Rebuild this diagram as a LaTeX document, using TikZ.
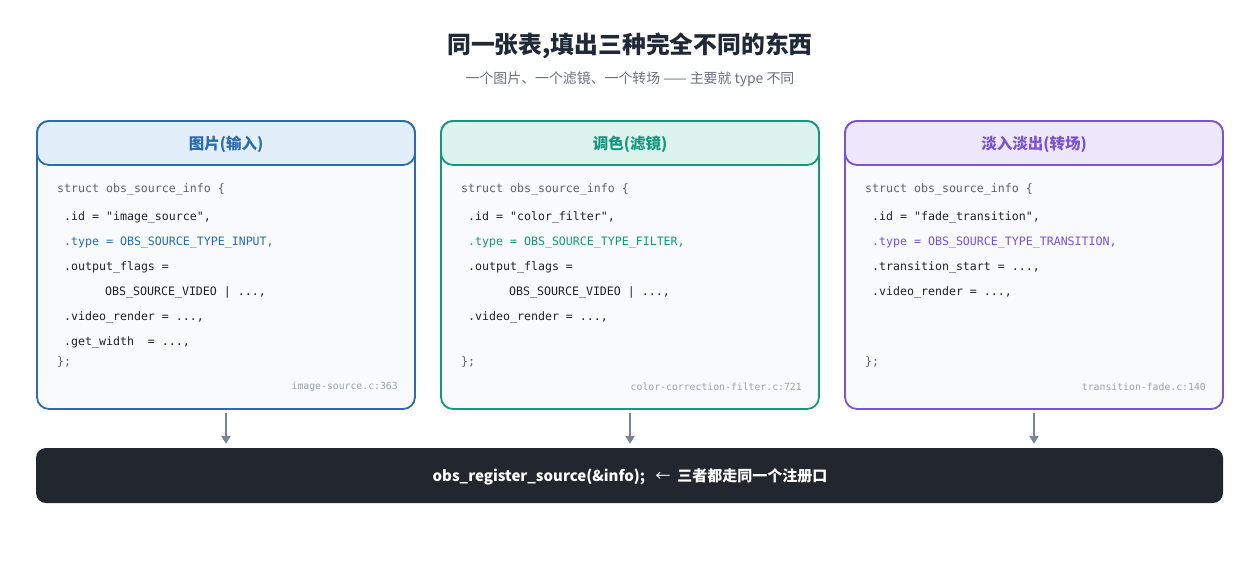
\documentclass[tikz,border=0pt]{standalone}
\usepackage{fontspec}
\setmainfont{Noto Sans CJK SC}
\setmonofont{DejaVu Sans Mono}
\usetikzlibrary{arrows.meta}
\definecolor{titlec}{HTML}{1F2937}
\definecolor{subc}{HTML}{6B7280}
\definecolor{bluec}{HTML}{2B6CB0}
\definecolor{bluef}{HTML}{E3EEFB}
\definecolor{tealc}{HTML}{17977F}
\definecolor{tealf}{HTML}{DDF3EE}
\definecolor{purc}{HTML}{7B52D3}
\definecolor{purf}{HTML}{EDE7FB}
\definecolor{bodyf}{HTML}{F8FAFC}
\definecolor{codec}{HTML}{1F2328}
\definecolor{structc}{HTML}{5B6370}
\definecolor{notec}{HTML}{9CA3AF}
\definecolor{barf}{HTML}{22262E}
\definecolor{arrc}{HTML}{7A8394}
\begin{document}
\begin{tikzpicture}[x=1pt,y=-1pt,
  panel/.style={draw=#1, line width=1.8pt, rounded corners=12pt, fill=bodyf,
    minimum width=378pt, minimum height=288pt, inner sep=0pt},
  hdr/.style={draw=#1, line width=1.8pt, rounded corners=12pt,
    minimum width=378pt, minimum height=44pt, inner sep=0pt},
  hdrtext/.style={inner sep=0pt, text=#1, font=\fontsize{15.5}{18}\selectfont\bfseries},
  code/.style={anchor=west, inner sep=0pt, text=codec,
    font=\fontsize{11.6}{14}\ttfamily},
  scode/.style={code, text=structc},
  note/.style={anchor=east, inner sep=0pt, text=notec,
    font=\fontsize{9.8}{12}\ttfamily},
  arr/.style={draw=arrc, line width=2pt, -{Triangle[length=8pt,width=9pt]}}
]
\useasboundingbox (0,0) rectangle (1260,560);
\fill[white] (0,0) rectangle (1260,560);

% titles
\node[inner sep=0pt, text=titlec, font=\fontsize{23.8}{28}\selectfont\bfseries] (title) at (630,45.5) {同一张表,填出三种完全不同的东西};
\node[inner sep=0pt, text=subc, font=\fontsize{13.9}{16}\selectfont] (sub) at (630,79.5) {一个图片、一个滤镜、一个转场 —— 主要就 type 不同};

% panels
\node[panel=bluec] (box1) at (226,265) {};
\node[panel=tealc] (box2) at (630,265) {};
\node[panel=purc] (box3) at (1034,265) {};
\node[hdr=bluec, fill=bluef] (h1) at (226,143) {};
\node[hdr=tealc, fill=tealf] (h2) at (630,143) {};
\node[hdr=purc, fill=purf] (h3) at (1034,143) {};
\node[hdrtext=bluec] (h1t) at (226,144.5) {图片(输入)};
\node[hdrtext=tealc] (h2t) at (630,144.5) {调色(滤镜)};
\node[hdrtext=purc] (h3t) at (1034,144.5) {淡入淡出(转场)};

% box 1 code
\node[scode] (a0) at (57,189.5) {struct obs\_source\_info \{};
\node[code] (a1) at (64,217.5) {.id = "image\_source",};
\node[code, text=bluec] (a2) at (64,242.5) {.type = OBS\_SOURCE\_TYPE\_INPUT,};
\node[code] (a3) at (64,267.5) {.output\_flags =};
\node[code] (a4) at (105,292.5) {OBS\_SOURCE\_VIDEO | ...,};
\node[code] (a5) at (64,317.5) {.video\_render = ...,};
\node[code] (a6) at (64,342.5) {.get\_width\ \ = ...,};
\node[scode] (a7) at (57,362.5) {\};};
\node[note] (an) at (398,387) {image-source.c:363};

% box 2 code
\node[scode] (b0) at (461,189.5) {struct obs\_source\_info \{};
\node[code] (b1) at (468,217.5) {.id = "color\_filter",};
\node[code, text=tealc] (b2) at (468,242.5) {.type = OBS\_SOURCE\_TYPE\_FILTER,};
\node[code] (b3) at (468,267.5) {.output\_flags =};
\node[code] (b4) at (509,292.5) {OBS\_SOURCE\_VIDEO | ...,};
\node[code] (b5) at (468,317.5) {.video\_render = ...,};
\node[scode] (b7) at (461,362.5) {\};};
\node[note] (bn) at (802,387) {color-correction-filter.c:721};

% box 3 code
\node[scode] (c0) at (865,189.5) {struct obs\_source\_info \{};
\node[code] (c1) at (872,217.5) {.id = "fade\_transition",};
\node[code, text=purc] (c2) at (872,242.5) {.type = OBS\_SOURCE\_TYPE\_TRANSITION,};
\node[code] (c3) at (872,267.5) {.transition\_start = ...,};
\node[code] (c4) at (872,292.5) {.video\_render = ...,};
\node[scode] (c7) at (865,362.5) {\};};
\node[note] (cn) at (1206,387) {transition-fade.c:140};

% bottom bar
\node[fill=barf, rounded corners=10pt, minimum width=1187pt, minimum height=55pt, inner sep=0pt] (bar) at (629.5,475.5) {};
\node[inner sep=0pt, text=white, font=\fontsize{15}{18}\selectfont\bfseries] (bart) at (630,477)
  {obs\_register\_source(\&info);\ \ \ {\mdseries ←}\ \ 三者都走同一个注册口};

% arrows
\draw[arr, shorten <=3pt, shorten >=4pt] (box1.south) -- (box1.south |- bar.north);
\draw[arr, shorten <=3pt, shorten >=4pt] (box2.south) -- (box2.south |- bar.north);
\draw[arr, shorten <=3pt, shorten >=4pt] (box3.south) -- (box3.south |- bar.north);
\end{tikzpicture}
\end{document}
